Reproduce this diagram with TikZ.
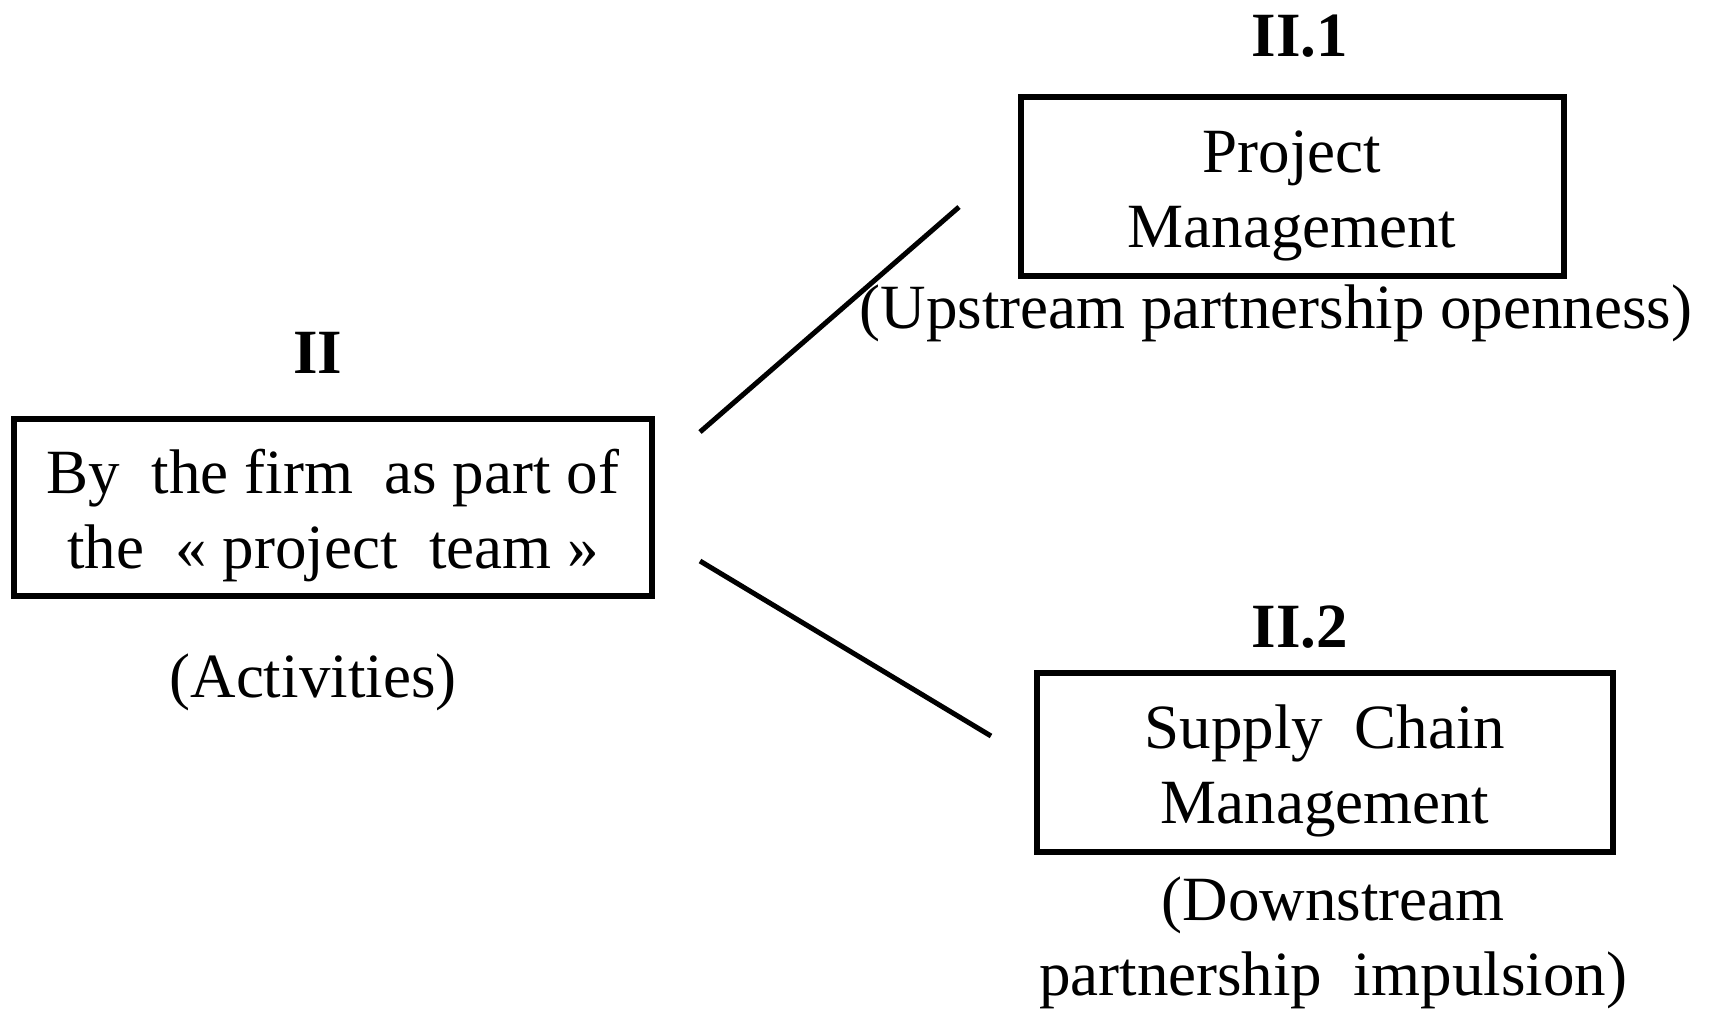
\documentclass[tikz,border=0pt]{standalone}
\usepackage{fontspec}
\setmainfont{Liberation Serif}
\tikzset{
  txt/.style={font=\fontsize{63}{75}\selectfont, align=center, inner sep=0pt},
  lbl/.style={font=\fontsize{63}{75}\selectfont\bfseries, inner sep=0pt},
  frame/.style={draw, line width=6pt, inner sep=0pt, anchor=center},
  link/.style={line width=5pt}
}
\begin{document}
\begin{tikzpicture}[x=1pt,y=-1pt]
\useasboundingbox (0,0) rectangle (1720,1013);
% left box
\node[lbl] (t2) at (318,353) {II};
\node[frame, minimum width=638pt, minimum height=177pt] (b2) at (333,507.5) {};
\node[txt] (b2t) at (333,516) {By\ \ the firm\ \ as part of\\the\ \ « project\ \ team »};
\node[txt] (a2) at (313,682) {(Activities)};
% upper right box
\node[lbl] (t21) at (1300,36) {II.1};
\node[frame, minimum width=543pt, minimum height=179pt] (b21) at (1292,186) {};
\node[txt] (b21t) at (1292,196) {Project\\Management};
\node[txt] (u21) at (1276,313) {(Upstream partnership openness)};
% lower right box
\node[lbl] (t22) at (1300,627) {II.2};
\node[frame, minimum width=576pt, minimum height=179pt] (b22) at (1325,762) {};
\node[txt] (b22t) at (1325,771) {Supply\ \ Chain\\Management};
\node[txt] (d22) at (1333,943) {(Downstream\\partnership\ \ impulsion)};
% connectors
\coordinate (c1a) at (700,432);
\coordinate (c1b) at (959,207);
\coordinate (c2a) at (700,561);
\coordinate (c2b) at (991,736);
\draw[link] (c1a) -- (c1b);
\draw[link] (c2a) -- (c2b);
\end{tikzpicture}
\end{document}
